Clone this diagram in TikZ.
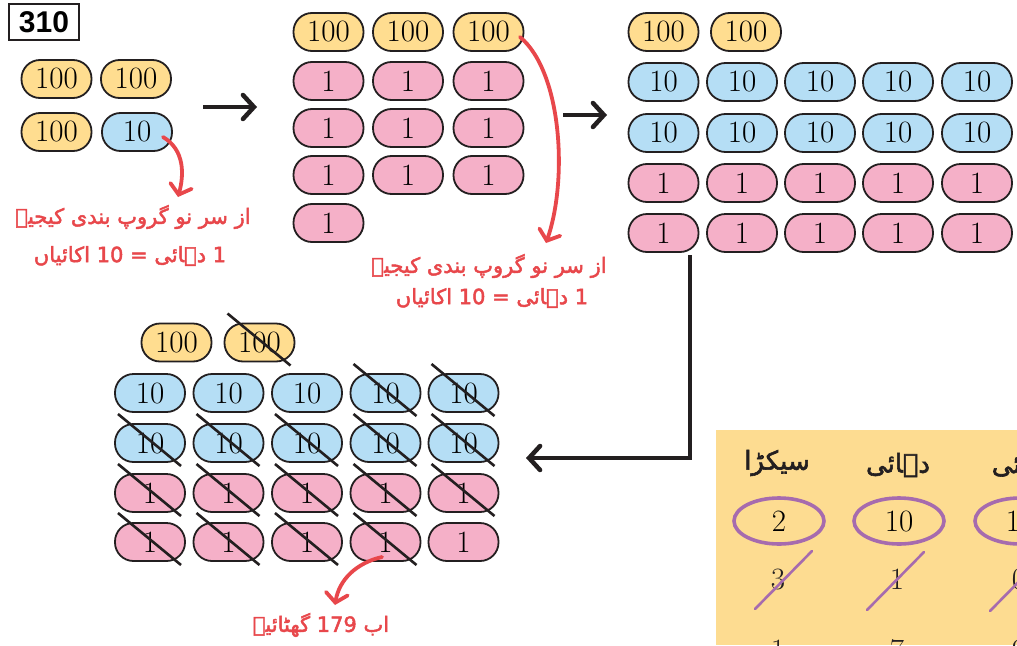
\documentclass[tikz,border=0pt]{standalone}
\usepackage{fontspec}
\usetikzlibrary{arrows.meta,shapes.geometric}
\TeXXeTstate=1
\newfontfamily\urdufont[Script=Arabic,AutoFakeBold=2.2]{DejaVu Sans}
\newfontfamily\boxfont{Liberation Sans}
\definecolor{ink}{HTML}{231F20}
\definecolor{hyel}{HTML}{FFDD90}
\definecolor{tblue}{HTML}{B5DEF5}
\definecolor{opink}{HTML}{F5B0C8}
\definecolor{redc}{HTML}{E8474B}
\definecolor{purp}{HTML}{A66BAE}
\definecolor{tabyel}{HTML}{FDDC91}
\begin{document}
\begin{tikzpicture}[x=1pt,y=-1pt,
  pill/.style={draw=ink,line width=1.8pt,rounded corners=18.5pt,minimum width=70pt,minimum height=38pt,inner sep=0pt,font=\fontsize{31}{31}\selectfont},
  hpill/.style={pill,fill=hyel},
  tpill/.style={pill,fill=tblue},
  opill/.style={pill,fill=opink},
  strike/.style={draw=ink,line width=2.6pt},
  blackarrow/.style={draw=ink,line width=4.5pt,-{Straight Barb[length=11pt,width=24pt,line cap=round]}},
  redarrow/.style={draw=redc,line width=3.8pt,line cap=round,-{Straight Barb[length=9pt,width=22pt,line cap=round]}},
  redtext/.style={text=redc,font=\urdufont\bfseries\fontsize{21}{24}\selectfont,inner sep=0pt},
  hdr/.style={text=ink,font=\urdufont\bfseries\fontsize{26}{30}\selectfont,inner sep=0pt},
  tdig/.style={text=ink,font=\fontsize{31}{31}\selectfont,inner sep=0pt},
  ring/.style={draw=purp,line width=3.6pt,ellipse,minimum width=90pt,minimum height=46pt,inner sep=0pt,font=\fontsize{31}{31}\selectfont},
  pstrike/.style={draw=purp,line width=2.6pt,line cap=round}]
\useasboundingbox (0,0) rectangle (1017,645);
\clip (0,0) rectangle (1017,645);
\fill[white] (0,0) rectangle (1017,645);

% title box
\node[draw=ink,line width=2.4pt,minimum width=70pt,minimum height=36pt,inner sep=0pt,font=\boxfont\bfseries\fontsize{30}{30}\selectfont] (title) at (44,22) {310};

% stage 1
\node[hpill] (a1) at (56.5,79) {100};
\node[hpill] (a2) at (136,79) {100};
\node[hpill] (a3) at (56.5,132) {100};
\node[tpill] (a4) at (137,132) {10};

% stage 2
\foreach \x [count=\i] in {328.5,408,488.5} \node[hpill] (m0\i) at (\x,32) {100};
\foreach \y [count=\r] in {81,128,175} {
  \foreach \x [count=\i] in {328.5,408,488.5} \node[opill] (m\r\i) at (\x,\y) {1};
}
\node[opill] (m41) at (328.5,223) {1};

% stage 3
\node[hpill] (s01) at (663.5,32) {100};
\node[hpill] (s02) at (746,32) {100};
\foreach \y [count=\r] in {82,133} {
  \foreach \x [count=\i] in {663.5,742,820,898,977} \node[tpill] (s\r\i) at (\x,\y) {10};
}
\foreach \y [count=\r from 3] in {183,233} {
  \foreach \x [count=\i] in {663.5,742,820,898,977} \node[opill] (s\r\i) at (\x,\y) {1};
}

% stage 4
\node[hpill] (b01) at (176.5,342.5) {100};
\node[hpill] (b02) at (259.5,342.5) {100};
\foreach \y [count=\r] in {393,443} {
  \foreach \x [count=\i] in {150,228.5,307,385.5,463.5} \node[tpill] (b\r\i) at (\x,\y) {10};
}
\foreach \y [count=\r from 3] in {493,542} {
  \foreach \x [count=\i] in {150,228.5,307,385.5,463.5} \node[opill] (b\r\i) at (\x,\y) {1};
}
\foreach \n in {b02,b14,b15,b21,b22,b23,b24,b25,b31,b32,b33,b34,b35,b41,b42,b43,b44}
  \draw[strike] (\n) ++(-32,-29) -- ++(63,52);

% black arrows
\coordinate (k1a) at (203,107);
\coordinate (k1b) at (257,107);
\draw[blackarrow] (k1a) -- (k1b);
\coordinate (k2a) at (563,115);
\coordinate (k2b) at (607,115);
\draw[blackarrow] (k2a) -- (k2b);
\coordinate (k3a) at (690,255);
\coordinate (k3c) at (690,458);
\coordinate (k3b) at (526,458);
\draw[blackarrow,line join=miter] (k3a) -- (k3c) -- (k3b);

% red arrows and notes
\coordinate (r1a) at (163,137);
\coordinate (r1b) at (178,197);
\draw[redarrow] (r1a) .. controls (185,150) and (184,175) .. (r1b);
\node[redtext] (n1a) at (133,217) {\beginR از سر نو گروپ بندی کیجیے\endR};
\node[redtext] (n1b) at (130,256) {\beginR 1 دہائی = \beginL 10\endL{} اکائیاں\endR};

\coordinate (r2a) at (520,37);
\coordinate (r2b) at (546,243);
\draw[redarrow] (r2a) .. controls (562,72) and (568,180) .. (r2b);
\node[redtext] (n2a) at (489,266) {\beginR از سر نو گروپ بندی کیجیے\endR};
\node[redtext] (n2b) at (492,298) {\beginR 1 دہائی = \beginL 10\endL{} اکائیاں\endR};

\coordinate (r3a) at (382,557);
\coordinate (r3b) at (335,605);
\draw[redarrow] (r3a) .. controls (356,563) and (339,580) .. (r3b);
\node[redtext] (n3) at (321,625) {\beginR اب \beginL 179\endL{} گھٹائیے\endR};

% place value table
\fill[tabyel] (716,430) rectangle (1017,645);
\node[hdr] (hh) at (777,463) {\beginR سیکڑا\endR};
\node[hdr] (ht) at (898,465) {\beginR دہائی\endR};
\node[hdr] (ho) at (1020,465) {\beginR اکائی\endR};
\node[ring] (c1) at (779,521) {2};
\node[ring] (c2) at (899,521) {10};
\node[ring] (c3) at (1020,521) {10};
\node[tdig] (d1) at (778,579) {3};
\node[tdig] (d2) at (897,579) {1};
\node[tdig] (d3) at (1019,579) {0};
\draw[pstrike] (d1) ++(-23,30) -- ++(57,-58);
\draw[pstrike] (d2) ++(-30,31) -- ++(57,-58);
\draw[pstrike] (d3) ++(-29,32) -- ++(57,-58);
\node[tdig] (e1) at (778,650) {1};
\node[tdig] (e2) at (897,650) {7};
\node[tdig] (e3) at (1019,650) {9};
\end{tikzpicture}
\end{document}
